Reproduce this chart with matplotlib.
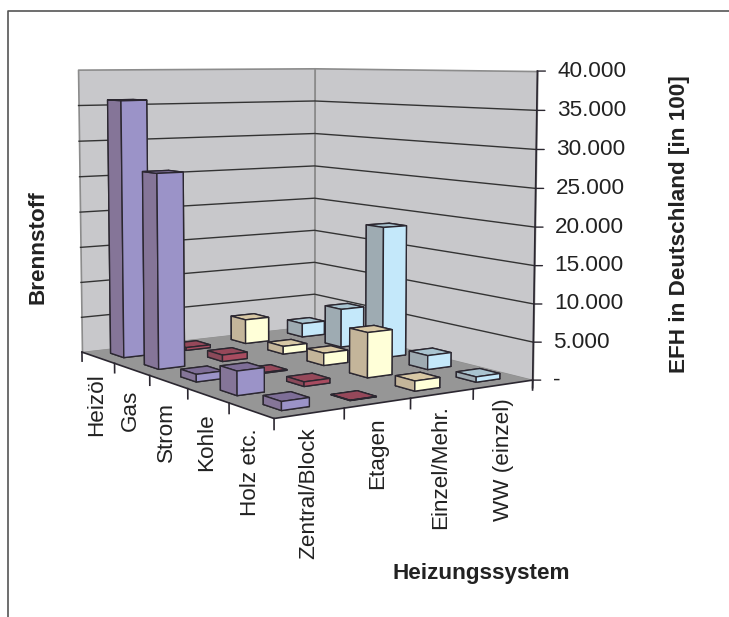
import numpy as np
import matplotlib
matplotlib.use('Agg')
import matplotlib.pyplot as plt
from mpl_toolkits.mplot3d import proj3d
from mpl_toolkits.mplot3d.art3d import Poly3DCollection

plt.rcParams['font.family'] = ['Liberation Sans', 'DejaVu Sans']

fuels = ["Heizöl", "Gas", "Strom", "Kohle", "Holz etc."]
systems = ["Zentral/Block", "Etagen", "Einzel/Mehr.", "WW (einzel)"]
zentral = [35800, 26400, 1000, 3100, 1100]
etagen = [400, 900, 100, 600, 50]
einzel = [3500, 1100, 1700, 6000, 1300]
ww = [2000, 5500, 18300, 1900, 700]
z_ticks = [0, 5000, 10000, 15000, 20000, 25000, 30000, 35000, 40000]
z_labels = ["-", "5.000", "10.000", "15.000", "20.000", "25.000", "30.000", "35.000", "40.000"]

W, H = 729, 617
fig = plt.figure(figsize=(7.29, 6.17), dpi=100)
# camera and position were fitted to the corners of the reference box
ax = fig.add_axes([0.0234, 0.1906, 0.7483, 0.8841], projection='3d')
ax.set_xlim(0, 4)
ax.set_ylim(0, 5)
ax.set_zlim(0, 40000)
ax.view_init(elev=5.844, azim=-123.641)
ax.set_proj_type('persp', focal_length=0.545)
ax.set_box_aspect((1, 1.26, 1.0))
ax.set_axis_off()
ax.computed_zorder = False
ax.patch.set_alpha(0)

wall = '#c8c8cb'
floor = '#969696'
edge = '#8c8c8c'
dark = '#2b2730'
zt = 40000
ax.add_collection3d(Poly3DCollection([[(0, 5, 0), (4, 5, 0), (4, 5, zt), (0, 5, zt)]], facecolor=wall, edgecolor=edge, linewidth=1.2, zorder=1))
ax.add_collection3d(Poly3DCollection([[(4, 5, 0), (4, 0, 0), (4, 0, zt), (4, 5, zt)]], facecolor=wall, edgecolor=edge, linewidth=1.2, zorder=1))
for z in z_ticks[1:-1]:
    ax.plot([0, 4, 4], [5, 5, 0], [z, z, z], color='#333333', lw=1, zorder=2)
ax.add_collection3d(Poly3DCollection([[(0, 0, 0), (4, 0, 0), (4, 5, 0), (0, 5, 0)]], facecolor=floor, edgecolor='none', zorder=3))

ax.plot([0, 0, 4], [5, 0, 0], [0, 0, 0], color=dark, lw=1.2, zorder=4)
for i in range(6):
    ax.plot([0, 0], [i, i], [0, -1300], color=dark, lw=1.2, zorder=4)
for i in range(1, 5):
    ax.plot([i, i], [0, 0], [0, -1300], color=dark, lw=1.2, zorder=4)
ax.plot([4, 4], [0, 0], [-1000, zt], color=dark, lw=1.2, zorder=4)

colors = [['#9b93c8', '#857598', '#7e6e97'],
          ['#a84c60', '#8a4a5a', '#96485a'],
          ['#ffffd8', '#c4b59a', '#d8c8a5'],
          ['#c4e8fa', '#9eabb2', '#a9c4d0']]
values = [zentral, etagen, einzel, ww]
bw = 0.4
bd = 0.4
order = 5
for j in range(len(fuels)):
    for i in range(len(systems) - 1, -1, -1):
        light, side_c, top = colors[i]
        ax.bar3d(i + (1 - bw) / 2, 4 - j + (1 - bd) / 2, 0, bw, bd, values[i][j],
                 color=[side_c, top, light, light, side_c, side_c], shade=False,
                 edgecolor=dark, linewidth=1, zorder=order)
        order += 1

M = ax.get_proj()
for z, lab in zip(z_ticks, z_labels):
    X, Y, _ = proj3d.proj_transform(4, 0, z, M)
    ax.annotate("", (X, Y), xytext=(8 * 0.72, 0), textcoords='offset points', arrowprops=dict(arrowstyle='-', color=dark, lw=1, shrinkA=0, shrinkB=0), annotation_clip=False)
    ax.annotate(lab, (X, Y), xytext=(20 * 0.72, 0), textcoords='offset points', ha='left', va='center', fontsize=16.2, color='#222222', annotation_clip=False)

x_pos = [97, 130, 166, 207, 251, 309, 378, 441, 503]
y_top = [373, 390, 402, 413, 428, 427, 417, 405, 398]
for lab, xp, yp in zip(fuels + systems, x_pos, y_top):
    fig.text(xp / W, 1 - yp / H, lab, rotation=90, ha='center', va='top', fontsize=16.2, color='#222222')
fig.text(38 / W, 1 - 247 / H, "Brennstoff", rotation=90, ha='center', va='center', fontsize=16.2, fontweight='bold', color='#222222')
fig.text(679 / W, 1 - 224 / H, "EFH in Deutschland [in 100]", rotation=90, ha='center', va='center', fontsize=16.2, fontweight='bold', color='#222222')
fig.text(481 / W, 1 - 574 / H, "Heizungssystem", ha='center', va='center', fontsize=16.2, fontweight='bold', color='#222222')

fig.add_artist(plt.Line2D([8 / W, 8 / W, 1], [0, 1 - 11 / H, 1 - 11 / H], color='#555555', lw=1.2))
fig.savefig('out.png', dpi=100)
